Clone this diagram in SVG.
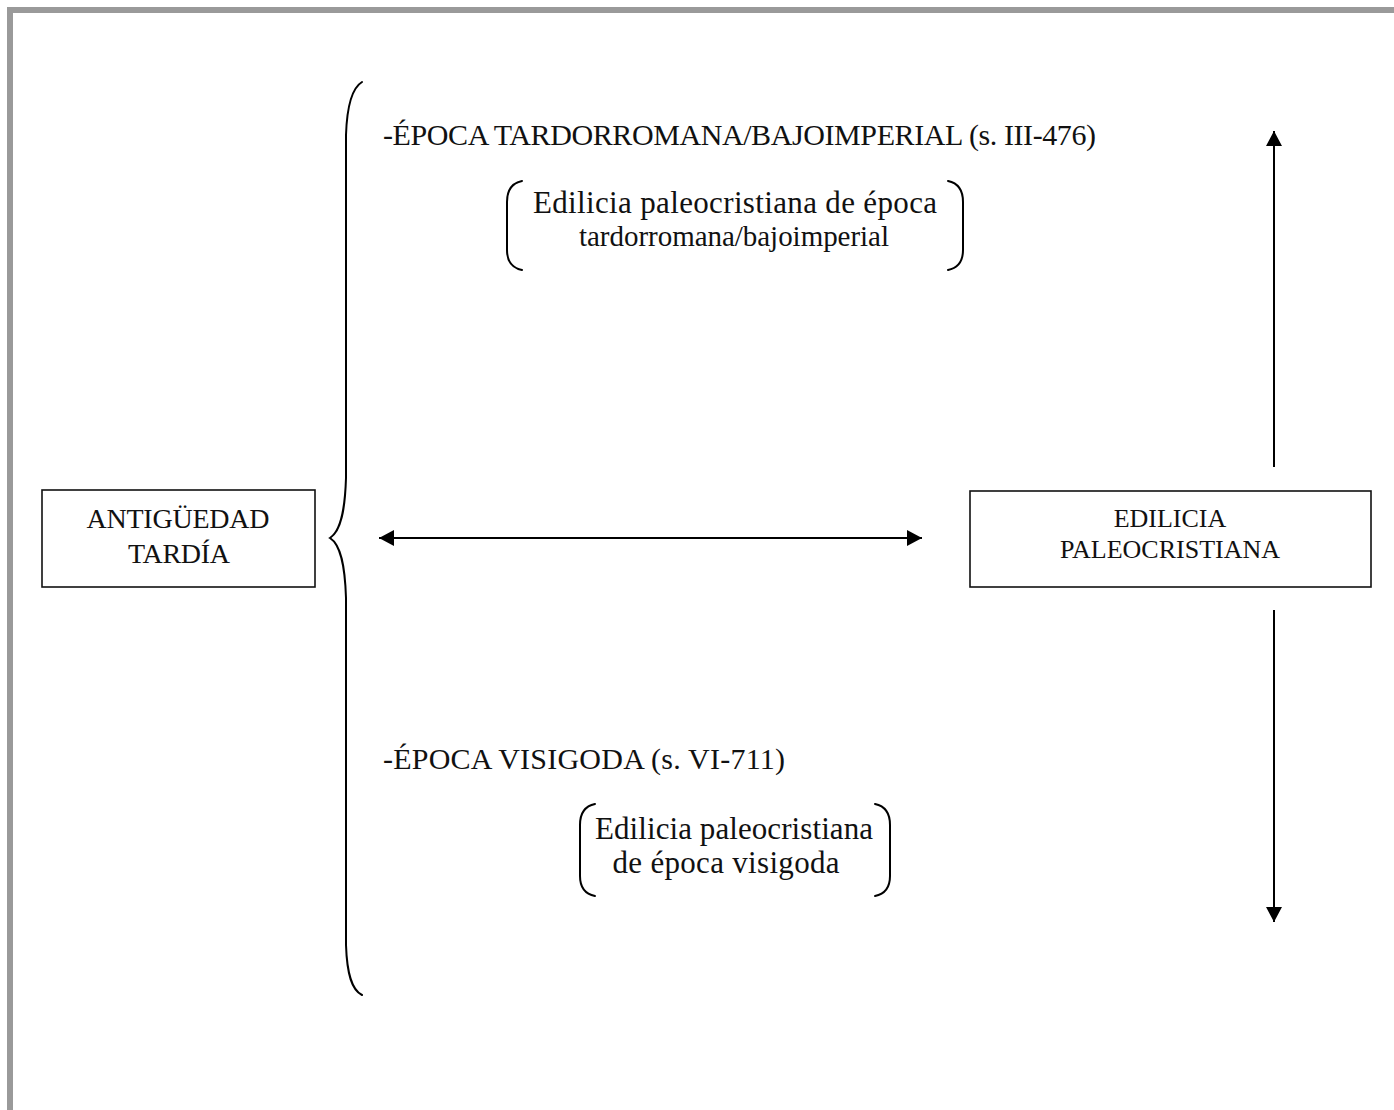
<svg xmlns="http://www.w3.org/2000/svg" width="1394" height="1110" viewBox="0 0 1394 1110">
  <style>
    .t { font-family: "Liberation Serif", "Times New Roman", serif; fill: #111; }
    .b { font-size: 30px; }
    .s { font-size: 31px; }
    .r { font-size: 29px; }
    .n { font-size: 28px; }
    .e { font-size: 26px; }
    .box { fill: #fff; stroke: #111; stroke-width: 1.6; }
    .cur { fill: none; stroke: #000; stroke-width: 2; stroke-linecap: round; }
    .ln { fill: none; stroke: #000; stroke-width: 2; }
  </style>
  <defs>
    <marker id="ah" viewBox="0 0 15 16" refX="15" refY="8" markerWidth="15" markerHeight="16" markerUnits="userSpaceOnUse" orient="auto-start-reverse">
      <path d="M0,0 L15,8 L0,16 Z" fill="#000"/>
    </marker>
  </defs>
  <rect x="0" y="0" width="1394" height="1110" fill="#fff"/>
  <rect id="frame" x="10" y="10" width="1410" height="1130" fill="none" stroke="#9a9a9a" stroke-width="6"/>

  <g id="antiguedad">
    <rect class="box" x="42" y="490" width="273" height="97"/>
    <text class="t n" x="178" y="528" text-anchor="middle" textLength="183">ANTIGÜEDAD</text>
    <text class="t n" x="179" y="563" text-anchor="middle" textLength="102">TARDÍA</text>
  </g>

  <g id="brace">
    <path class="cur" d="M362,82 C352,88 347,105 346,135 L346,478 C345,510 341,531 330,538 C341,545 345,566 346,598 L346,945 C347,975 352,990 362,995"/>
  </g>

  <g id="tardorromana">
    <text class="t b" x="383" y="145" textLength="713">-ÉPOCA TARDORROMANA/BAJOIMPERIAL (s. III-476)</text>
  </g>

  <g id="sub-tardorromana">
    <path class="cur" d="M522,181 C512,183 507,190 507,202 L507,250 C507,262 512,268 522,270"/>
    <path class="cur" d="M948,181 C958,183 963,190 963,202 L963,250 C963,262 958,268 948,270"/>
    <text class="t s" x="735" y="213" text-anchor="middle" textLength="404">Edilicia paleocristiana de época</text>
    <text class="t r" x="734" y="246" text-anchor="middle" textLength="310">tardorromana/bajoimperial</text>
  </g>

  <g id="visigoda">
    <text class="t b" x="383" y="769" textLength="402">-ÉPOCA VISIGODA (s. VI-711)</text>
  </g>

  <g id="sub-visigoda">
    <path class="cur" d="M595,804 C585,806 580,813 580,825 L580,876 C580,888 585,894 595,896"/>
    <path class="cur" d="M875,804 C885,806 890,813 890,825 L890,876 C890,888 885,894 875,896"/>
    <text class="t s" x="734" y="839" text-anchor="middle" textLength="278">Edilicia paleocristiana</text>
    <text class="t s" x="726" y="873" text-anchor="middle" textLength="227">de época visigoda</text>
  </g>

  <g id="edilicia">
    <rect class="box" x="970" y="491" width="401" height="96"/>
    <text class="t e" x="1170" y="527" text-anchor="middle">EDILICIA</text>
    <text class="t e" x="1170" y="558" text-anchor="middle">PALEOCRISTIANA</text>
  </g>

  <g id="connectors">
    <line class="ln" x1="379" y1="538" x2="922" y2="538" marker-start="url(#ah)" marker-end="url(#ah)"/>
    <line class="ln" x1="1274" y1="467" x2="1274" y2="131" marker-end="url(#ah)"/>
    <line class="ln" x1="1274" y1="610" x2="1274" y2="922" marker-end="url(#ah)"/>
  </g>
</svg>
